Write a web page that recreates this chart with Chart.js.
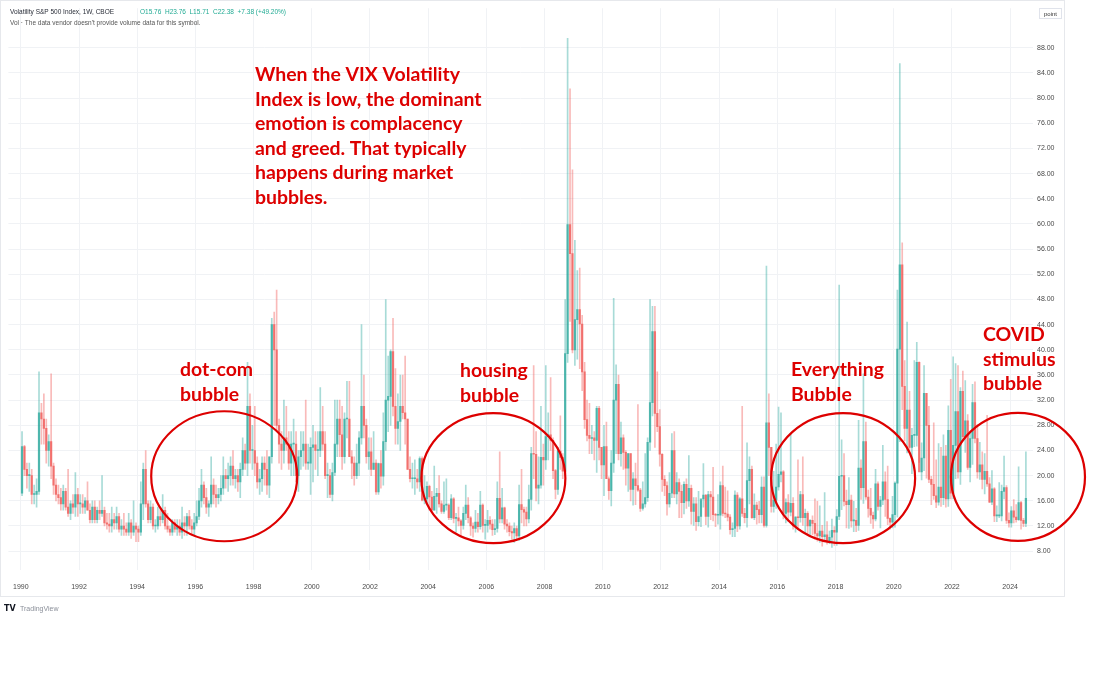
<!DOCTYPE html>
<html>
<head>
<meta charset="utf-8">
<script src="https://cdn.jsdelivr.net/npm/chart.js@4"></script>
<style>
  html, body { margin: 0; padding: 0; background: #fff; }
  canvas { display: block; }
</style>
</head>
<body>
<canvas id="vixChart" width="1100" height="693"></canvas>
<script>
// VIX monthly candles Jan 1990 - Jul 2024
const firstYear = 1990;

const open = [
  17.2,24.6,21.0,20.0,20.0,17.0,17.0,17.5,30.0,29.0,27.5,24.0,
  25.4,21.5,18.5,17.0,16.5,15.5,17.5,15.0,14.0,15.5,15.0,17.0,
  15.5,15.5,15.0,16.0,14.5,13.0,15.0,13.0,14.5,14.0,14.5,12.5,
  12.3,12.0,13.0,12.5,13.5,11.5,12.0,11.5,11.0,12.5,11.0,12.0,
  11.5,11.0,15.5,21.0,15.5,13.0,15.0,12.0,12.0,13.5,13.0,14.5,
  12.0,11.5,11.0,12.5,11.5,12.0,11.0,12.5,12.0,13.5,12.0,11.5,
  12.5,13.5,16.0,18.5,16.5,15.0,15.5,18.5,17.0,16.5,17.0,18.0,
  20.0,19.5,20.0,21.5,19.5,20.0,19.0,21.0,24.0,22.0,31.0,24.0,
  24.0,22.0,19.0,19.5,22.0,21.0,18.5,23.0,44.0,40.0,28.0,25.0,
  24.0,26.0,25.0,22.0,25.0,25.0,20.0,23.0,24.0,25.0,22.0,22.0,
  24.5,24.9,24.0,24.0,27.0,25.0,20.0,20.0,17.0,20.5,25.0,29.0,
  26.5,23.0,29.0,29.0,23.0,22.0,20.0,22.0,26.0,31.0,28.0,23.0,
  23.8,21.0,22.0,17.4,21.9,19.9,25.4,32.0,32.6,39.7,31.0,27.5,
  28.6,31.0,30.0,29.0,21.0,19.5,19.5,19.5,19.0,22.7,16.1,16.3,
  18.3,16.6,14.5,16.7,17.2,15.5,14.3,15.3,15.3,13.3,16.3,13.2,
  13.3,12.8,12.1,14.0,15.3,13.3,12.0,11.6,12.6,11.9,15.3,12.1,
  12.1,12.9,12.3,11.4,11.6,16.4,13.1,14.9,12.3,12.0,11.1,10.9,
  11.6,10.4,15.4,14.6,14.2,13.1,16.2,23.5,23.4,18.0,18.5,22.9,
  22.5,26.2,26.5,25.6,20.8,17.8,23.9,22.9,20.7,39.4,59.9,55.3,
  40.0,44.8,46.4,44.1,36.5,28.9,26.4,25.9,26.0,25.6,30.7,24.5,
  21.7,24.6,19.5,17.6,22.0,32.0,34.5,23.5,26.0,23.7,21.2,23.5,
  17.8,19.5,18.4,17.7,14.8,15.5,16.5,25.3,31.6,42.9,29.9,27.8,
  23.4,19.4,18.4,15.5,17.2,24.0,17.1,18.9,17.5,15.7,18.6,16.0,
  18.0,14.3,15.5,12.7,13.5,16.3,16.9,13.5,17.0,16.6,13.8,13.7,
  13.7,18.4,14.0,13.9,13.4,11.4,11.6,16.9,12.0,16.3,14.0,13.3,
  19.2,21.0,13.3,15.3,14.6,13.8,18.2,12.1,28.4,24.5,15.1,16.1,
  18.2,20.2,20.6,14.0,15.7,14.2,15.6,12.0,13.4,13.3,17.0,13.3,
  14.0,12.0,12.9,12.4,10.8,10.4,11.2,10.3,10.6,9.5,10.2,11.3,
  11.0,13.5,19.9,20.0,15.9,15.4,16.1,12.8,12.9,12.1,21.2,18.1,
  25.4,16.6,14.8,13.7,13.1,18.7,15.1,16.1,19.0,16.2,13.2,12.6,
  13.8,18.8,40.1,53.5,34.2,27.5,30.4,24.5,26.4,26.4,38.0,20.6,
  22.8,33.1,28.0,19.4,18.6,16.8,15.8,18.2,16.5,23.1,16.3,27.2,
  17.2,24.8,30.2,20.6,33.4,26.2,28.7,21.3,25.9,31.6,25.9,20.6,
  21.7,19.4,20.7,18.7,15.8,17.9,13.6,13.6,13.6,17.5,18.1,12.9,
  12.5,14.4,13.4,13.0,15.7,12.9,12.4
];

const high = [
  27.0,24.8,22.0,22.0,21.0,18.5,19.5,36.5,31.5,33.0,29.0,26.5,
  36.2,22.0,19.5,18.5,18.0,18.5,18.0,21.0,16.0,17.0,20.5,18.0,
  17.0,17.0,16.5,19.0,15.5,16.0,16.0,15.0,16.0,20.0,15.0,14.0,
  14.0,15.0,14.0,15.0,14.0,13.0,14.0,12.5,14.0,13.0,16.0,12.5,
  12.0,19.0,22.0,24.0,16.0,16.0,15.5,13.0,15.0,15.0,17.0,15.0,
  14.0,12.0,13.0,13.0,13.0,13.0,15.0,13.5,14.0,14.5,13.0,14.0,
  16.0,18.0,21.0,19.0,18.0,16.0,23.0,19.5,18.5,18.0,20.0,23.0,
  21.0,22.0,23.0,24.0,21.0,21.0,22.0,26.0,25.0,38.0,33.0,28.0,
  31.0,23.0,21.0,23.0,23.0,24.0,23.0,45.0,46.0,49.5,29.0,27.0,
  32.0,31.0,27.0,27.0,29.0,27.0,24.0,27.0,27.0,32.0,25.0,26.0,
  28.0,27.0,27.0,34.0,31.0,27.0,22.0,21.0,22.0,32.0,32.0,32.0,
  31.0,30.0,35.0,35.0,24.0,23.0,25.0,27.0,44.0,36.0,29.0,26.0,
  26.0,27.0,22.5,22.0,24.0,30.0,48.0,39.0,40.0,45.0,37.0,33.0,
  36.0,36.0,39.0,29.0,23.0,22.0,22.5,21.0,23.0,23.0,20.0,19.0,
  18.5,17.5,21.5,18.0,20.0,16.0,19.0,19.5,15.5,17.0,16.5,14.0,
  15.0,13.0,15.0,18.5,16.5,13.5,12.5,14.5,14.0,17.5,15.5,13.0,
  14.5,13.5,13.0,13.0,19.0,23.8,18.0,15.0,13.0,12.5,12.0,12.5,
  12.0,18.5,21.0,15.0,15.0,18.5,24.5,37.5,27.0,23.0,31.0,25.0,
  37.5,30.0,35.6,26.0,21.0,24.5,29.5,23.5,48.0,89.5,81.5,68.6,
  57.4,52.6,53.0,45.5,38.0,32.0,31.5,28.0,27.0,31.0,31.0,24.5,
  28.0,28.5,19.8,24.0,48.2,37.6,36.0,28.5,26.5,24.0,23.5,23.5,
  20.5,22.0,31.3,18.0,19.0,23.5,26.0,48.0,46.9,46.9,36.5,30.5,
  23.5,20.0,19.0,20.5,26.7,27.0,20.5,19.5,18.5,19.0,19.5,23.2,
  18.5,16.5,16.5,17.5,16.0,21.9,17.0,17.5,17.5,21.3,14.0,17.0,
  19.0,21.5,18.2,17.6,13.8,12.5,17.6,17.3,16.5,31.0,14.8,25.2,
  23.0,21.5,17.1,15.8,15.9,19.8,19.8,53.3,33.0,24.5,20.7,25.0,
  30.9,30.0,20.8,16.3,17.0,26.7,16.5,13.5,22.5,17.5,23.0,14.7,
  14.3,13.0,13.6,16.3,15.9,15.2,12.1,17.3,12.7,11.2,13.1,11.9,
  14.6,50.3,25.7,23.5,17.7,19.7,16.9,15.9,14.8,28.8,22.5,36.2,
  28.5,17.7,18.0,14.2,21.0,19.0,16.7,24.8,20.6,21.5,13.3,16.7,
  19.0,49.5,85.5,57.0,38.3,44.4,33.4,27.5,38.3,41.2,38.1,25.2,
  37.5,33.1,31.0,19.9,28.4,22.5,25.1,24.5,26.5,24.8,31.1,35.3,
  38.9,37.8,37.5,34.0,36.6,35.1,29.7,26.7,34.5,34.9,28.1,25.3,
  23.8,23.5,29.6,19.7,20.8,18.1,15.2,18.9,18.5,23.1,18.4,14.1,
  15.1,16.2,15.4,21.4,15.9,13.2,23.8
];

const low = [
  16.8,20.0,18.0,17.5,15.5,15.5,15.0,17.0,25.0,25.0,22.0,21.5,
  19.5,17.0,16.0,15.5,14.5,14.5,14.5,13.5,13.0,14.0,13.5,13.5,
  14.0,14.0,14.0,14.5,12.5,12.5,12.5,12.5,13.0,13.5,12.0,11.5,
  11.0,11.0,11.5,11.5,11.0,10.5,10.5,10.5,10.5,10.0,10.5,9.5,
  9.5,10.5,13.0,15.0,12.5,12.5,11.5,11.0,11.5,12.0,12.5,11.5,
  11.0,10.5,10.5,11.0,10.5,10.5,10.0,10.5,10.5,11.5,10.5,10.5,
  12.0,13.0,15.0,15.5,14.0,13.5,15.0,15.5,15.0,15.5,16.0,17.0,
  18.0,17.5,18.5,18.5,18.0,17.5,16.5,20.0,21.0,20.0,22.0,21.0,
  20.0,18.0,17.0,17.5,18.5,17.0,16.5,22.0,28.0,27.0,22.0,21.0,
  22.0,24.0,21.0,20.0,20.0,19.0,17.5,21.0,21.5,21.0,21.0,17.0,
  19.0,21.0,20.0,23.0,24.0,19.5,16.5,16.5,16.0,20.0,23.0,23.0,
  21.0,22.0,26.0,23.0,19.5,18.5,19.5,20.0,25.0,26.0,22.0,21.0,
  20.0,21.0,17.0,17.0,18.0,18.5,24.0,27.0,28.0,29.5,25.0,25.0,
  24.0,29.0,25.0,21.0,19.0,18.0,17.0,18.0,17.5,16.0,15.5,15.5,
  14.5,14.5,14.5,14.0,15.0,14.0,14.0,14.5,13.0,13.0,12.5,11.0,
  12.0,10.5,11.5,13.0,12.5,10.5,10.2,11.0,11.0,11.5,11.0,9.9,
  11.0,11.5,10.5,10.6,11.0,12.5,12.5,11.5,11.0,10.4,9.9,9.4,
  9.9,9.7,12.5,12.0,12.0,12.5,14.5,19.5,16.0,15.5,18.0,18.5,
  21.0,22.5,24.0,19.5,16.3,17.0,21.0,19.5,20.0,38.0,44.5,39.5,
  37.5,38.5,37.0,33.5,27.5,25.5,23.5,23.5,22.5,20.5,22.5,19.5,
  16.8,19.5,16.2,15.2,20.5,23.5,22.5,21.5,21.0,18.5,17.5,16.0,
  15.3,15.4,17.5,14.3,14.5,15.0,15.9,24.0,29.5,24.5,27.0,21.5,
  17.5,16.8,13.7,15.0,16.5,16.5,15.5,13.3,13.3,13.9,14.8,15.1,
  12.3,12.1,11.3,12.0,11.9,15.0,12.2,11.8,13.0,12.8,11.9,12.3,
  11.5,13.6,13.3,12.8,10.7,10.3,10.3,11.1,11.5,13.5,12.5,11.8,
  15.5,13.2,13.0,12.3,12.5,12.5,11.8,11.8,20.0,14.2,14.2,14.8,
  17.7,19.0,13.1,12.5,12.7,13.6,11.5,11.0,11.6,12.6,12.1,11.0,
  10.6,10.5,10.6,9.9,9.6,9.4,8.8,9.5,9.1,9.2,8.6,8.9,
  8.9,13.0,14.6,15.2,11.7,11.6,11.8,11.1,11.1,11.3,16.2,15.6,
  16.2,13.4,12.4,11.6,12.8,14.5,11.7,15.4,13.5,12.2,11.5,11.7,
  11.8,13.4,25.4,30.5,25.5,23.6,23.8,20.3,24.6,24.7,22.1,19.3,
  20.8,19.6,18.9,15.4,16.2,14.9,15.3,15.1,15.4,15.0,15.1,16.3,
  16.3,19.5,19.6,18.6,25.5,23.7,21.0,19.0,21.8,25.2,19.6,19.4,
  17.9,17.1,18.3,15.7,15.4,12.7,12.7,13.3,12.8,16.3,12.4,11.8,
  11.8,12.5,12.6,12.9,11.5,11.9,11.9
];

const close = [
  24.6,21.0,20.0,20.0,17.0,17.0,17.5,30.0,29.0,27.5,24.0,25.4,
  21.5,18.5,17.0,16.5,15.5,17.5,15.0,14.0,15.5,15.0,17.0,15.5,
  15.5,15.0,16.0,14.5,13.0,15.0,13.0,14.5,14.0,14.5,12.5,12.3,
  12.0,13.0,12.5,13.5,11.5,12.0,11.5,11.0,12.5,11.0,12.0,11.5,
  11.0,15.5,21.0,15.5,13.0,15.0,12.0,12.0,13.5,13.0,14.5,12.0,
  11.5,11.0,12.5,11.5,12.0,11.0,12.5,12.0,13.5,12.0,11.5,12.5,
  13.5,16.0,18.5,16.5,15.0,15.5,18.5,17.0,16.5,17.0,18.0,20.0,
  19.5,20.0,21.5,19.5,20.0,19.0,21.0,24.0,22.0,31.0,24.0,24.0,
  22.0,19.0,19.5,22.0,21.0,18.5,23.0,44.0,40.0,28.0,25.0,24.0,
  26.0,25.0,22.0,25.0,25.0,20.0,23.0,24.0,25.0,22.0,22.0,24.5,
  24.9,24.0,24.0,27.0,25.0,20.0,20.0,17.0,20.5,25.0,29.0,26.5,
  23.0,29.0,29.0,23.0,22.0,20.0,22.0,26.0,31.0,28.0,23.0,23.8,
  21.0,22.0,17.4,21.9,19.9,25.4,32.0,32.6,39.7,31.0,27.5,28.6,
  31.0,30.0,29.0,21.0,19.5,19.5,19.5,19.0,22.7,16.1,16.3,18.3,
  16.6,14.5,16.7,17.2,15.5,14.3,15.3,15.3,13.3,16.3,13.2,13.3,
  12.8,12.1,14.0,15.3,13.3,12.0,11.6,12.6,11.9,15.3,12.1,12.1,
  12.9,12.3,11.4,11.6,16.4,13.1,14.9,12.3,12.0,11.1,10.9,11.6,
  10.4,15.4,14.6,14.2,13.1,16.2,23.5,23.4,18.0,18.5,22.9,22.5,
  26.2,26.5,25.6,20.8,17.8,23.9,22.9,20.7,39.4,59.9,55.3,40.0,
  44.8,46.4,44.1,36.5,28.9,26.4,25.9,26.0,25.6,30.7,24.5,21.7,
  24.6,19.5,17.6,22.0,32.0,34.5,23.5,26.0,23.7,21.2,23.5,17.8,
  19.5,18.4,17.7,14.8,15.5,16.5,25.3,31.6,42.9,29.9,27.8,23.4,
  19.4,18.4,15.5,17.2,24.0,17.1,18.9,17.5,15.7,18.6,16.0,18.0,
  14.3,15.5,12.7,13.5,16.3,16.9,13.5,17.0,16.6,13.8,13.7,13.7,
  18.4,14.0,13.9,13.4,11.4,11.6,16.9,12.0,16.3,14.0,13.3,19.2,
  21.0,13.3,15.3,14.6,13.8,18.2,12.1,28.4,24.5,15.1,16.1,18.2,
  20.2,20.6,14.0,15.7,14.2,15.6,12.0,13.4,13.3,17.0,13.3,14.0,
  12.0,12.9,12.4,10.8,10.4,11.2,10.3,10.6,9.5,10.2,11.3,11.0,
  13.5,19.9,20.0,15.9,15.4,16.1,12.8,12.9,12.1,21.2,18.1,25.4,
  16.6,14.8,13.7,13.1,18.7,15.1,16.1,19.0,16.2,13.2,12.6,13.8,
  18.8,40.1,53.5,34.2,27.5,30.4,24.5,26.4,26.4,38.0,20.6,22.8,
  33.1,28.0,19.4,18.6,16.8,15.8,18.2,16.5,23.1,16.3,27.2,17.2,
  24.8,30.2,20.6,33.4,26.2,28.7,21.3,25.9,31.6,25.9,20.6,21.7,
  19.4,20.7,18.7,15.8,17.9,13.6,13.6,13.6,17.5,18.1,12.9,12.5,
  14.4,13.4,13.0,15.7,12.9,12.4,16.4
];

const yearTicks = [1990,1992,1994,1996,1998,2000,2002,2004,2006,2008,2010,2012,2014,2016,2018,2020,2022,2024];
const priceTicks = [8,12,16,20,24,28,32,36,40,44,48,52,56,60,64,68,72,76,80,84,88];

const mainNote = [
  'When the VIX Volatility',
  'Index is low, the dominant',
  'emotion is complacency',
  'and greed. That typically',
  'happens during market',
  'bubbles.'
];

// bubble circles: centre in data units, radii in px
const bubbles = [
  { year: 1996.99, value: 19.9, rx: 73, ry: 65, lines: ['dot-com', 'bubble'], tx: 180, ty: 376 },
  { year: 2006.24, value: 19.6, rx: 72, ry: 65, lines: ['housing', 'bubble'], tx: 460, ty: 377 },
  { year: 2018.26, value: 19.6, rx: 72, ry: 65, lines: ['Everything', 'Bubble'], tx: 791, ty: 376 },
  { year: 2024.27, value: 19.8, rx: 67, ry: 64, lines: ['COVID', 'stimulus', 'bubble'], tx: 983, ty: 341 }
];

const monthX = open.map((_, i) => firstYear + (i + 0.5) / 12);
const rising = open.map((o, i) => close[i] >= o);

const UP = '38,166,154', DOWN = '239,83,80';

const overlay = {
  id: 'overlay',
  afterDraw(chart) {
    const { ctx, scales: { x, y } } = chart;
    ctx.save();

    // frame of the chart widget
    ctx.strokeStyle = '#e6e8ec';
    ctx.lineWidth = 1;
    ctx.strokeRect(0.5, 0.5, 1064, 596);

    // header
    ctx.textBaseline = 'alphabetic';
    ctx.textAlign = 'left';
    ctx.font = '6.5px "Liberation Sans"';
    ctx.fillStyle = '#2a2e39';
    ctx.fillText('Volatility S&P 500 Index, 1W, CBOE', 10, 14);
    ctx.fillStyle = '#22ab94';
    ctx.fillText('O15.76  H23.76  L15.71  C22.38  +7.38 (+49.20%)', 140, 14);
    ctx.fillStyle = '#555';
    ctx.fillText('Vol · The data vendor doesn\'t provide volume data for this symbol.', 10, 25);

    // unit box, top right
    ctx.strokeStyle = '#e0e3eb';
    ctx.strokeRect(1039.5, 8.5, 22, 10);
    ctx.fillStyle = '#333';
    ctx.textAlign = 'center';
    ctx.font = '6px "Liberation Sans"';
    ctx.fillText('point', 1050.5, 16);

    // TradingView logo
    ctx.textAlign = 'left';
    ctx.font = 'bold 8px "DejaVu Sans"';
    ctx.fillStyle = '#131722';
    ctx.fillText('TV', 4, 611);
    ctx.font = '7px "Liberation Sans"';
    ctx.fillStyle = '#8a8f99';
    ctx.fillText('TradingView', 20, 611);

    // red annotations
    const red = '#dd0000';
    ctx.font = 'bold 17px Lato';
    const fit = 205 / ctx.measureText(mainNote[0]).width;
    const size = (17 * fit).toFixed(2);
    ctx.font = 'bold ' + size + 'px Lato';
    ctx.fillStyle = red;
    mainNote.forEach((t, i) => ctx.fillText(t, 255, 81 + i * 24.5));

    ctx.strokeStyle = red;
    ctx.lineWidth = 2.2;
    bubbles.forEach(b => {
      ctx.beginPath();
      ctx.ellipse(x.getPixelForValue(b.year), y.getPixelForValue(b.value), b.rx, b.ry, 0, 0, Math.PI * 2);
      ctx.stroke();
      b.lines.forEach((t, i) => ctx.fillText(t, b.tx, b.ty + i * 24.5));
    });

    ctx.restore();
  }
};

new Chart(document.getElementById('vixChart'), {
  type: 'bar',
  data: {
    datasets: [
      {
        label: 'wick',
        data: monthX.map((mx, i) => ({ x: mx, y: [low[i], high[i]] })),
        backgroundColor: rising.map(r => 'rgba(' + (r ? UP : DOWN) + ',0.4)'),
        barThickness: 1,
        grouped: false,
        borderWidth: 0
      },
      {
        label: 'body',
        data: monthX.map((mx, i) => ({ x: mx, y: [open[i], close[i]] })),
        backgroundColor: rising.map(r => 'rgba(' + (r ? UP : DOWN) + ',0.72)'),
        barThickness: 1.6,
        minBarLength: 1,
        grouped: false,
        borderWidth: 0
      }
    ]
  },
  options: {
    responsive: false,
    animation: false,
    layout: { padding: { left: 3, top: 2, right: 35, bottom: 96 } },
    plugins: { legend: { display: false }, tooltip: { enabled: false } },
    scales: {
      x: {
        type: 'linear',
        min: 1989.573,
        max: 2024.786,
        offset: false,
        afterFit: s => { s.height = 27; },
        afterBuildTicks: s => { s.ticks = yearTicks.map(v => ({ value: v })); },
        grid: { color: '#f0f2f5', drawTicks: false, offset: false },
        border: { display: false },
        ticks: {
          padding: 13,
          maxRotation: 0,
          autoSkip: false,
          color: '#4a4a4a',
          font: { family: 'Liberation Sans', size: 7 },
          callback: v => String(v)
        }
      },
      y: {
        position: 'right',
        min: 5,
        max: 94.3,
        afterFit: s => { s.width = 32; },
        afterBuildTicks: s => { s.ticks = priceTicks.map(v => ({ value: v })); },
        grid: { color: '#f0f2f5', drawTicks: false },
        border: { display: false },
        ticks: {
          padding: 4,
          color: '#4a4a4a',
          font: { family: 'Liberation Sans', size: 7 },
          callback: v => v.toFixed(2)
        }
      }
    }
  },
  plugins: [overlay]
});
</script>
</body>
</html>
